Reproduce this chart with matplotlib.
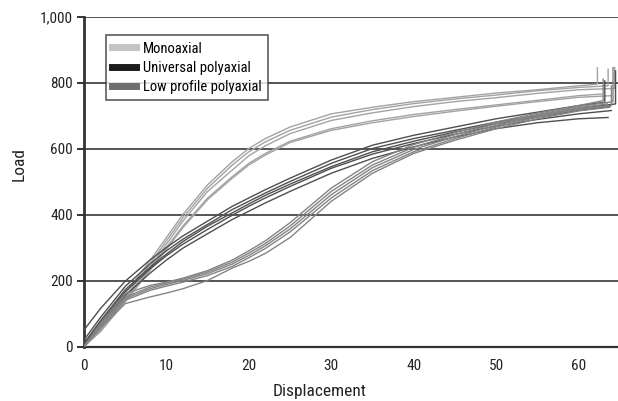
import matplotlib
matplotlib.use("Agg")
import matplotlib.pyplot as plt
from matplotlib.lines import Line2D
from matplotlib.ticker import FuncFormatter

plt.rcParams['font.family'] = ['Roboto Condensed', 'DejaVu Sans']

# displacement sample points shared by every specimen curve
disp = [0, 2, 5, 8, 10, 12, 15, 18, 20, 22, 25, 30, 35, 40, 45, 50, 55, 60]

# Monoaxial specimens
mono_1 = [0, 60, 160, 260, 330, 400, 490, 560, 600, 630, 665, 705, 725, 742, 755, 768, 778, 790]
mono_2 = [0, 55, 150, 250, 320, 390, 480, 550, 590, 620, 655, 695, 718, 736, 750, 762, 775, 785]
mono_3 = [0, 50, 145, 240, 310, 380, 470, 535, 578, 608, 645, 685, 708, 727, 742, 754, 767, 778]
mono_4 = [0, 50, 140, 235, 300, 365, 450, 515, 555, 585, 622, 660, 684, 703, 718, 732, 746, 760]
mono_5 = [0, 45, 135, 230, 295, 360, 445, 510, 550, 580, 618, 655, 678, 697, 713, 728, 742, 755]
mono_end_x = [62.3, 63.6, 64.4, 62.8, 63.9]
mono_end_y = [795, 790, 782, 765, 760]
mono_spike = [845, 840, 845, None, None]

# Universal polyaxial specimens
univ_1 = [50, 115, 198, 262, 300, 335, 380, 425, 450, 475, 510, 565, 610, 640, 665, 690, 710, 730]
univ_2 = [20, 88, 182, 250, 290, 325, 370, 415, 440, 465, 500, 555, 600, 630, 655, 680, 700, 722]
univ_3 = [10, 78, 172, 240, 280, 318, 365, 405, 432, 458, 492, 545, 590, 622, 650, 675, 695, 715]
univ_4 = [5, 72, 166, 235, 275, 310, 355, 398, 425, 450, 485, 540, 583, 615, 643, 668, 688, 705]
univ_5 = [0, 65, 155, 222, 262, 298, 342, 385, 410, 435, 470, 525, 570, 605, 635, 660, 678, 690]
univ_end_x = [63.2, 64.5, 63.8, 64.0, 63.6]
univ_end_y = [740, 735, 728, 715, 694]
univ_spike = [805, 835, None, None, None]

# Low profile polyaxial specimens
low_1 = [0, 70, 160, 185, 195, 207, 230, 262, 290, 320, 375, 480, 560, 612, 648, 680, 707, 730]
low_2 = [0, 65, 150, 180, 192, 204, 226, 256, 283, 312, 365, 470, 550, 604, 642, 675, 703, 727]
low_3 = [0, 60, 145, 175, 188, 200, 221, 250, 276, 305, 356, 460, 542, 597, 636, 670, 699, 723]
low_4 = [0, 58, 140, 170, 183, 195, 215, 243, 269, 297, 347, 450, 533, 590, 630, 665, 695, 719]
low_5 = [0, 55, 130, 150, 162, 175, 200, 238, 258, 282, 330, 440, 525, 585, 625, 660, 690, 714]
low_end_x = [63.0, 64.2, 63.5, 64.0, 63.8]
low_end_y = [745, 742, 735, 730, 725]
low_spike = [810, 845, None, 790, None]

groups = [
    ([mono_1, mono_2, mono_3, mono_4, mono_5], mono_end_x, mono_end_y, mono_spike, '#a3a3a3'),
    ([univ_1, univ_2, univ_3, univ_4, univ_5], univ_end_x, univ_end_y, univ_spike, '#4f4f4f'),
    ([low_1, low_2, low_3, low_4, low_5], low_end_x, low_end_y, low_spike, '#848484'),
]

fig = plt.figure(figsize=(6.18, 4.01), dpi=100)
ax = fig.add_axes([84 / 618, (401 - 346.5) / 401, 534 / 618, 330 / 401])

for curves, ex, ey, sp, col in groups:
    for i, yy in enumerate(curves):
        xs = disp + [ex[i]]
        ys = yy + [ey[i]]
        if sp[i] is not None:
            xs = xs + [ex[i]]
            ys = ys + [sp[i]]
        ax.plot(xs, ys, color=col, lw=1.0, zorder=3)

ax.set_xlim(0, 64.8)
ax.set_ylim(0, 1000)
ax.set_xticks(range(0, 61, 10))
ax.set_yticks(range(0, 1001, 200))
ax.yaxis.set_major_formatter(FuncFormatter(lambda v, p: f"{int(v):,}"))
ax.grid(axis='y', color='#555555', lw=1.4, zorder=1)
ax.set_axisbelow(True)

for s in ['top', 'right']:
    ax.spines[s].set_visible(False)
ax.spines['left'].set_color('#333333')
ax.spines['left'].set_linewidth(2)
ax.spines['bottom'].set_color('#333333')
ax.spines['bottom'].set_linewidth(1.6)
ax.tick_params(axis='y', length=5, width=1.4, color='#333333', labelsize=11, pad=3, labelcolor='#222222')
ax.tick_params(axis='x', length=0, labelsize=11, pad=9, labelcolor='#222222')

ax.set_xlabel('Displacement', fontsize=12.5, color='#222222')
ax.set_ylabel('Load', fontsize=12.5, color='#222222')
ax.xaxis.set_label_coords(0.442, -0.115)
ax.yaxis.set_label_coords(-0.108, 0.553)

handles = [
    Line2D([], [], color='#c4c4c4', lw=5),
    Line2D([], [], color='#1c1c1c', lw=5),
    Line2D([], [], color='#6e6e6e', lw=5),
]
leg = ax.legend(handles, ['Monoaxial', 'Universal polyaxial', 'Low profile polyaxial'],
                loc='upper left', bbox_to_anchor=(0.041, 0.944), fontsize=10.5,
                frameon=True, fancybox=False, handlelength=1.6, handletextpad=0.5,
                labelspacing=0.35, borderpad=0.45, borderaxespad=0)
leg.get_frame().set_edgecolor('#333333')
leg.get_frame().set_linewidth(1.2)
leg.set_zorder(5)

fig.savefig('out.png', dpi=100)
